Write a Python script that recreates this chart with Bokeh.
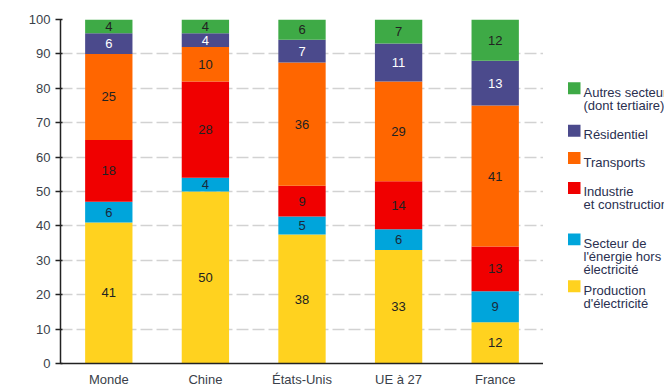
from bokeh.plotting import figure
from bokeh.models import ColumnDataSource, FixedTicker, Range1d, FactorRange
from bokeh.layouts import row
from bokeh.core.properties import value
from bokeh.embed import file_html
from bokeh.resources import INLINE

# ---- data ----
countries = ["Monde", "Chine", "États-Unis", "UE à 27", "France"]
production = [41, 50, 37.5, 33, 12]
energie = [6, 4, 5.2, 6, 9]
industrie = [18, 28, 9, 14, 13]
transports = [25, 10, 35.8, 29, 41]
residentiel = [6, 4, 6.6, 11, 13]
autres = [4, 4, 5.9, 7, 12]

series_keys = ["production", "energie", "industrie", "transports", "residentiel", "autres"]
series_vals = [production, energie, industrie, transports, residentiel, autres]
series_colors = ["#ffd21f", "#00a5db", "#f00000", "#ff6600", "#4b4a8c", "#3eaa46"]
label_colors = ["#222222", "#1a2a3a", "#222222", "#222222", "#ffffff", "#222222"]
legend_labels = [
    ["Production", "d'électricité"],
    ["Secteur de", "l'énergie hors", "électricité"],
    ["Industrie", "et construction"],
    ["Transports"],
    ["Résidentiel"],
    ["Autres secteurs", "(dont tertiaire)"],
]
y_ticks = list(range(0, 101, 10))

FONT = "Liberation Sans"
TOP, BOTTOM = 19, 25
H = 389

data = {"country": countries}
for k, v in zip(series_keys, series_vals):
    data[k] = v
source = ColumnDataSource(data)

p = figure(x_range=FactorRange(*countries, range_padding=0), y_range=Range1d(0, 100),
           width=543, height=H, output_backend="svg", toolbar_location=None,
           min_border_left=60, min_border_right=0, min_border_top=TOP, min_border_bottom=BOTTOM)
p.outline_line_color = None

p.vbar_stack(series_keys, x="country", width=0.49, source=source,
             color=series_colors, line_color=None)

# value labels
lx, ly, lt, lc = [], [], [], []
for i, c in enumerate(countries):
    base = 0
    for vals, col in zip(series_vals, label_colors):
        v = vals[i]
        lx.append(c)
        ly.append(base + v / 2)
        lt.append(str(int(v + 0.5)))
        lc.append(col)
        base += v
lsrc = ColumnDataSource(dict(x=lx, y=ly, t=lt, c=lc))
p.text(x="x", y="y", text="t", source=lsrc, text_color="c", text_align="center",
       text_baseline="middle", text_font=value(FONT), text_font_size="13px")

# axes
p.yaxis.ticker = FixedTicker(ticks=y_ticks)
p.yaxis.axis_line_color = "#222222"
p.yaxis.axis_line_width = 1.5
p.yaxis.major_tick_line_color = "#222222"
p.yaxis.major_tick_line_width = 1.5
p.yaxis.major_tick_out = 5
p.yaxis.major_tick_in = 2
p.yaxis.minor_tick_line_color = None
p.yaxis.major_label_standoff = 5
p.yaxis.major_label_text_font = FONT
p.yaxis.major_label_text_font_size = "13px"
p.yaxis.major_label_text_color = "#3a3f4a"

p.xaxis.axis_line_color = "#222222"
p.xaxis.axis_line_width = 1.5
p.xaxis.major_tick_line_color = None
p.xaxis.major_tick_out = 0
p.xaxis.major_tick_in = 0
p.xaxis.major_label_standoff = 8
p.xaxis.major_label_text_font = FONT
p.xaxis.major_label_text_font_size = "13px"
p.xaxis.major_label_text_color = "#3a3f4a"

p.xgrid.grid_line_color = None
p.ygrid.grid_line_color = "#d2d2d2"
p.ygrid.grid_line_width = 1.5
p.ygrid.grid_line_dash = "12 4"

# legend panel (frame aligned with main plot; data coords = page pixels, y downwards)
leg = figure(width=121, height=H, x_range=Range1d(0, 121), y_range=Range1d(H - BOTTOM, TOP),
             output_backend="svg", toolbar_location=None,
             min_border_left=0, min_border_right=0, min_border_top=TOP, min_border_bottom=BOTTOM)
leg.axis.visible = False
leg.grid.visible = False
leg.outline_line_color = None

item_tops = [280.5, 233.5, 182, 152, 124.5, 82]
sq_l, sq_r, sq_h = 24.5, 37, 12
qx0, qx1, qt, qb, qc = [], [], [], [], []
tx, ty, tt = [], [], []
for top, col, lines in zip(item_tops, series_colors, legend_labels):
    qx0.append(sq_l); qx1.append(sq_r); qt.append(top); qb.append(top + sq_h); qc.append(col)
    for j, ln in enumerate(lines):
        tx.append(40)
        ty.append(top + 10 + 13 * j)
        tt.append(ln)
leg.quad(left=qx0, right=qx1, top=qt, bottom=qb, color=qc, line_color=None)
leg.text(x=tx, y=ty, text=tt, text_align="left", text_baseline="alphabetic",
         text_font=value(FONT), text_font_size="13px", text_color="#2a3050")

layout = row(p, leg)
open("out.html", "w").write(file_html(layout, INLINE))
